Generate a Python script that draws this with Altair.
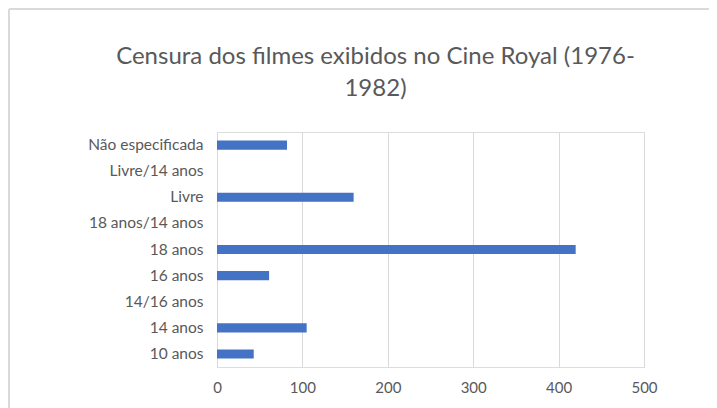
import altair as alt
import pandas as pd

categories = ["Não especificada", "Livre/14 anos", "Livre", "18 anos/14 anos",
              "18 anos", "16 anos", "14/16 anos", "14 anos", "10 anos"]
values = [82, 0, 160, 0, 420, 61, 0, 105, 43]
ticks = [0, 100, 200, 300, 400, 500]

df = pd.DataFrame({"categoria": categories, "filmes": values})

FONT = "Lato"
GREY = "#595959"

bars = alt.Chart(df).mark_bar(color="#4472C4").encode(
    x=alt.X("filmes:Q", scale=alt.Scale(domain=[0, 500], nice=False),
            axis=alt.Axis(values=ticks, title=None, grid=True, gridColor="#d9d9d9",
                          domain=False, ticks=False, labelColor=GREY, labelFontSize=15,
                          labelFont=FONT, labelPadding=13, labelFlush=False)),
    y=alt.Y("categoria:N", sort=categories,
            scale=alt.Scale(paddingInner=0.65, paddingOuter=0.325),
            axis=alt.Axis(title=None, domain=False, ticks=False,
                          labelColor=GREY, labelFontSize=15.5, labelFont=FONT,
                          labelPadding=14)),
)

border = alt.Chart(df).mark_rule(color="#d9d9d9", strokeWidth=1).encode(
    x=alt.value(-208), x2=alt.value(520), y=alt.value(-123), y2=alt.value(-123)
)
border_left = alt.Chart(df).mark_rule(color="#d9d9d9", strokeWidth=1).encode(
    x=alt.value(-208), x2=alt.value(-208), y=alt.value(-123), y2=alt.value(300)
)

chart = alt.layer(border, border_left, bars).properties(
    width=427,
    height=235,
    title=alt.TitleParams(
        text=["Censura dos filmes exibidos no Cine Royal (1976-", "1982)"],
        font=FONT, fontSize=24, fontWeight="normal", color=GREY,
        anchor="middle", dx=-55, offset=-92, lineHeight=32,
    ),
    autosize=alt.AutoSizeParams(type="none"),
    padding={"left": 209, "top": 124, "right": 65, "bottom": 41},
).configure_view(stroke="transparent", strokeWidth=0).configure(background="white")

chart.save("out.html", embed_options={"renderer": "svg", "actions": False})
